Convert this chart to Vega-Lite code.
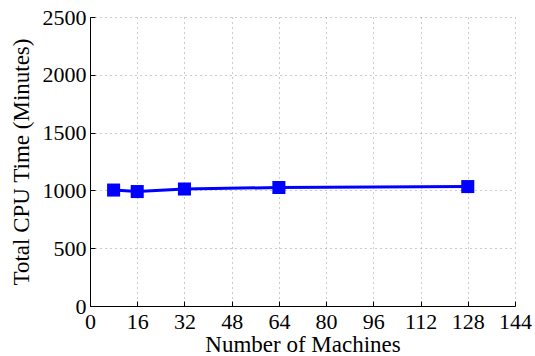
{
  "$schema": "https://vega.github.io/schema/vega-lite/v6.json",
  "width": 425,
  "height": 289,
  "autosize": "none",
  "padding": {"left": 90, "top": 17, "right": 20, "bottom": 50},
  "background": "white",
  "config": {
    "view": {"stroke": null},
    "font": "Liberation Serif",
    "axis": {
      "labelFont": "Liberation Serif",
      "titleFont": "Liberation Serif",
      "labelFontSize": 22,
      "titleFontSize": 23,
      "titleFontWeight": "normal",
      "labelColor": "black",
      "titleColor": "black",
      "domainColor": "black",
      "domainWidth": 1,
      "tickColor": "black",
      "tickSize": -5,
      "grid": true,
      "gridColor": "#999999",
      "gridDash": [1, 4],
      "gridWidth": 1,
      "format": "d"
    }
  },
  "data": {
    "values": [
      {"machines": 8, "cpu": 1003},
      {"machines": 16, "cpu": 990},
      {"machines": 32, "cpu": 1012},
      {"machines": 64, "cpu": 1025},
      {"machines": 128, "cpu": 1033}
    ]
  },
  "encoding": {
    "x": {
      "field": "machines",
      "type": "quantitative",
      "scale": {"domain": [0, 144], "nice": false, "zero": false},
      "axis": {"values": [0, 16, 32, 48, 64, 80, 96, 112, 128, 144], "title": "Number of Machines", "labelPadding": 10, "titlePadding": 1, "labelFlush": false, "labelOverlap": false}
    },
    "y": {
      "field": "cpu",
      "type": "quantitative",
      "scale": {"domain": [0, 2500], "nice": false},
      "axis": {"values": [0, 500, 1000, 1500, 2000, 2500], "title": "Total CPU Time (Minutes)", "labelPadding": 9, "titlePadding": 9, "labelOverlap": false}
    }
  },
  "layer": [
    {"mark": {"type": "line", "color": "#0000ff", "strokeWidth": 3}},
    {"mark": {"type": "square", "color": "#0000ff", "opacity": 1, "filled": true, "size": 170}}
  ]
}
